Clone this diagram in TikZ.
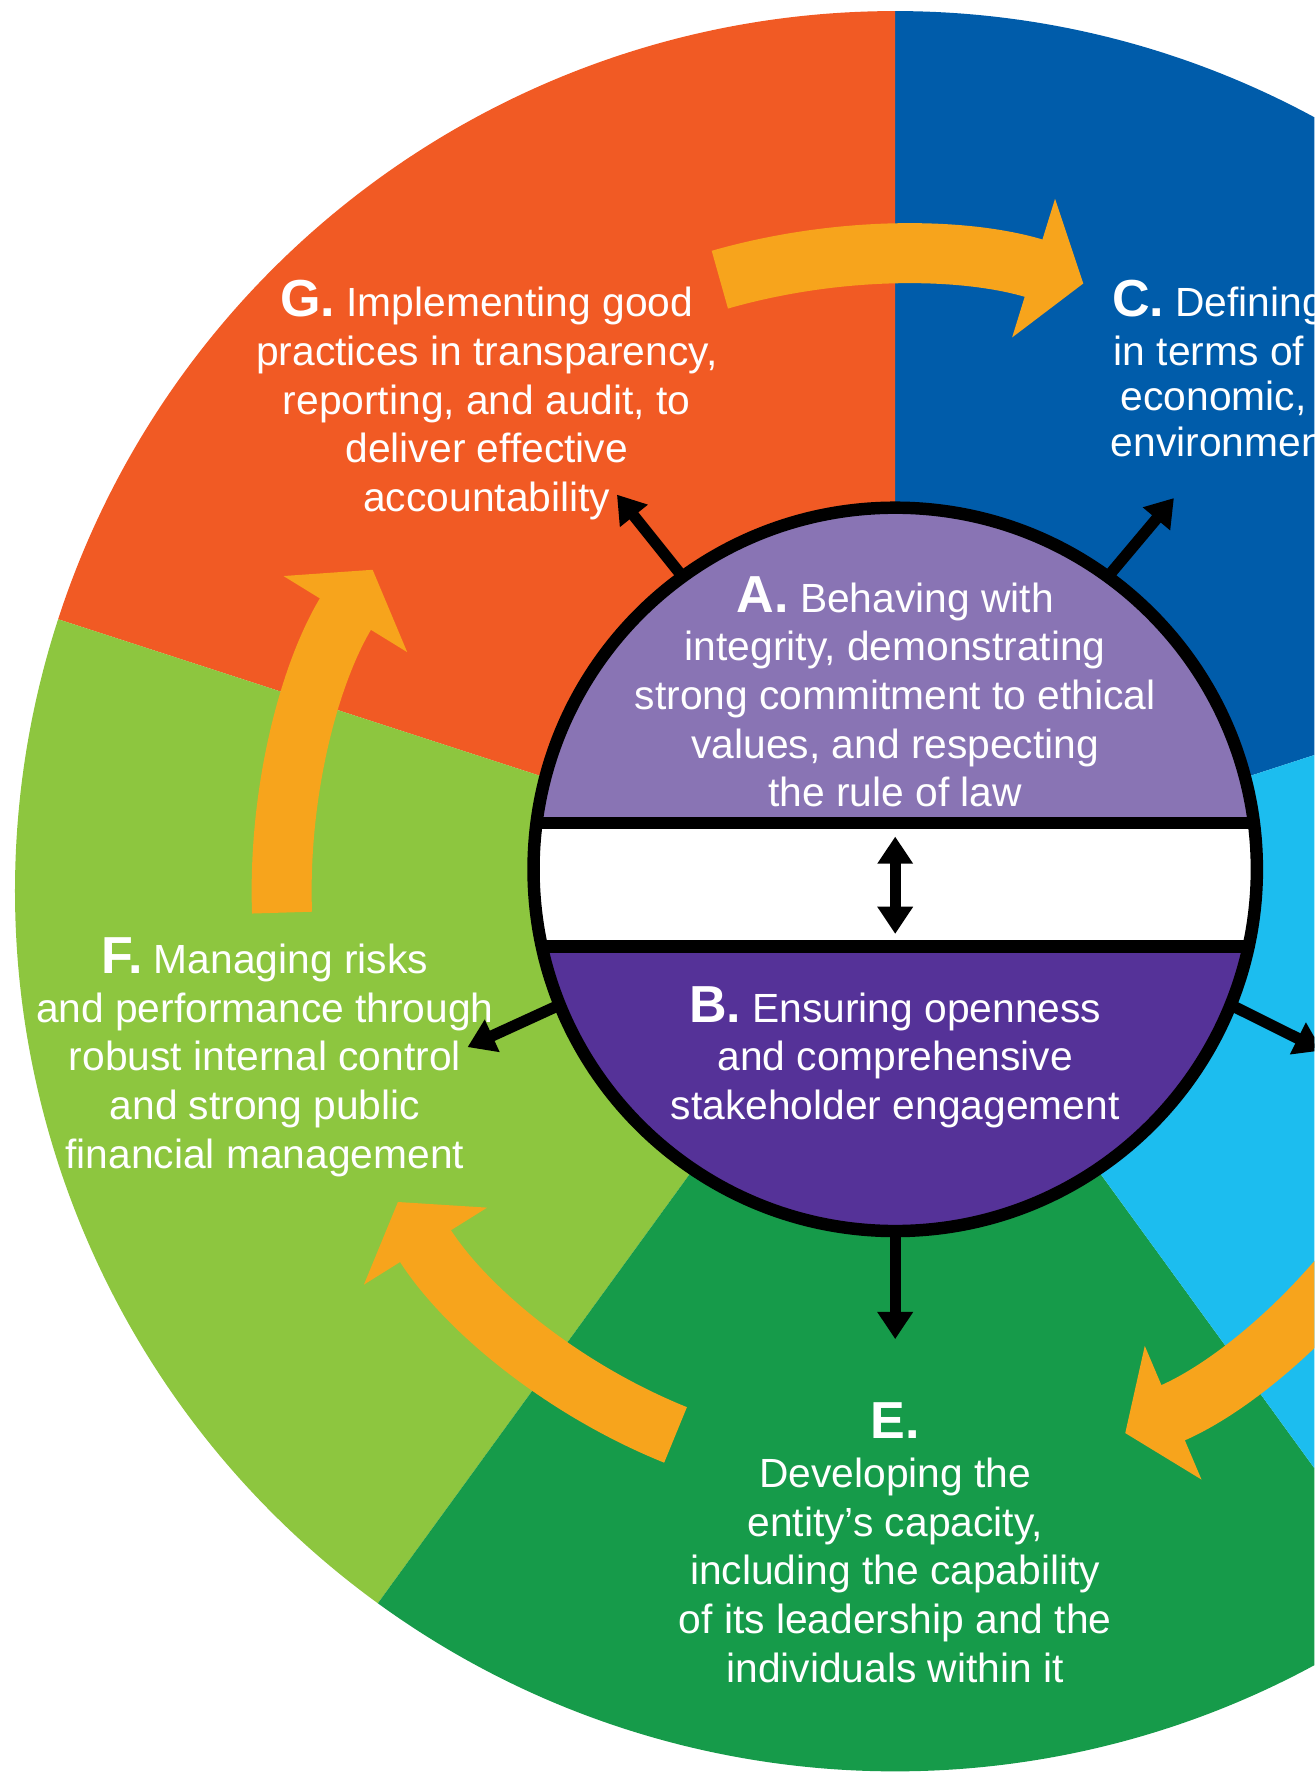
\documentclass[tikz,border=0pt]{standalone}
\usepackage{fontspec}
\setmainfont{Liberation Sans}
\usetikzlibrary{arrows.meta}
\definecolor{orangeG}{RGB}{241,90,36}
\definecolor{blueC}{RGB}{0,92,170}
\definecolor{blueD}{RGB}{28,189,239}
\definecolor{greenF}{RGB}{141,198,63}
\definecolor{greenE}{RGB}{22,155,74}
\definecolor{purA}{RGB}{137,116,180}
\definecolor{purB}{RGB}{85,50,152}
\definecolor{arrowOr}{RGB}{247,164,28}
\newcommand\bigletter[1]{{\fontsize{23}{21.5}\selectfont\bfseries #1}}
\begin{document}
\begin{tikzpicture}[x=0.5pt,y=0.5pt,
  body/.style={font=\fontsize{18}{21.5}\selectfont, text=white, align=center, inner sep=0pt},
  cline/.style={font=\fontsize{18}{21.5}\selectfont, text=white, inner sep=0pt, anchor=base west},
  blackarr/.style={line width=5pt, -{Triangle[length=12pt,width=15pt]}},
  dblarr/.style={line width=5pt, {Triangle[length=12pt,width=15pt]}-{Triangle[length=12pt,width=15pt]}},
  orangearr/.style={draw=arrowOr, line width=26.5pt, -{Triangle[length=23pt,width=63pt]}},
  outline/.style={line width=5.5pt}
]
\useasboundingbox (0,0) rectangle (1161,1568);
\clip (0,0) rectangle (1161,1568);
\coordinate (O) at (790.8,780.7);
% sectors
\fill[blueC] (O) -- ++(18:777.5) arc[start angle=18,end angle=90,radius=777.5] -- cycle;
\fill[orangeG] (O) -- ++(90:777.5) arc[start angle=90,end angle=162,radius=777.5] -- cycle;
\fill[greenF] (O) -- ++(162:777.5) arc[start angle=162,end angle=234,radius=777.5] -- cycle;
\fill[greenE] (O) -- ++(234:777.5) arc[start angle=234,end angle=306,radius=777.5] -- cycle;
\fill[blueD] (O) -- ++(306:777.5) arc[start angle=306,end angle=378,radius=777.5] -- cycle;
% orange cycle arrows
\coordinate (gcS) at ([shift={(106:562)}]O);
\coordinate (fgS) at ([shift={(182:542)}]O);
\coordinate (efS) at ([shift={(248:518)}]O);
\coordinate (deS) at ([shift={(327:520)}]O);
\draw[orangearr] (gcS) arc[start angle=106,end angle=72.8,radius=562];
\draw[orangearr] (fgS) arc[start angle=182,end angle=148.4,radius=542];
\draw[orangearr] (efS) arc[start angle=248,end angle=212,radius=518];
\draw[orangearr] (deS) arc[start angle=327,end angle=293,radius=520];
% inner circle
\node[circle, minimum size=319.5pt, inner sep=0pt, outer sep=0pt] (inner) at (790.8,800) {};
\begin{scope}
  \clip (inner.center) circle[radius=159.75pt];
  \fill[purA] (450,841) rectangle (1130,1130);
  \fill[white] (450,732) rectangle (1130,841);
  \fill[purB] (450,470) rectangle (1130,732);
  \draw[outline] (450,841) -- (1130,841) (450,732) -- (1130,732);
\end{scope}
\draw[outline] (inner.center) circle[radius=159.75pt];
% black arrows
\coordinate (tipG) at (545,1131);
\coordinate (tipC) at (1037,1128);
\coordinate (tipF) at (413,643);
\coordinate (tipD) at (1168,640);
\coordinate (tipE) at (790.8,385);
\coordinate (bandT) at (790.8,829);
\coordinate (bandB) at (790.8,743);
\draw[blackarr] (inner.126) -- (tipG);
\draw[blackarr] (inner.54) -- (tipC);
\draw[blackarr] (inner.202) -- (tipF);
\draw[blackarr] (inner.338) -- (tipD);
\draw[blackarr] (inner.270) -- (tipE);
\draw[dblarr] (bandB) -- (bandT);
% texts
\node[body] (A) at (790.8,957) {\bigletter{A.} Behaving with\\integrity, demonstrating\\strong commitment to ethical\\values, and respecting\\the rule of law};
\node[body] (B) at (790.8,634) {\bigletter{B.} Ensuring openness\\and comprehensive\\stakeholder engagement};
\node[body] (G) at (430,1214.5) {\bigletter{G.} Implementing good\\practices in transparency,\\reporting, and audit, to\\deliver effective\\accountability};
\node[body] (F) at (234,634) {\bigletter{F.} Managing risks\\and performance through\\robust internal control\\and strong public\\financial management};
\node[body] (E) at (790.8,205) {\bigletter{E.}\\Developing the\\entity’s capacity,\\including the capability\\of its leadership and the\\individuals within it};
\node[cline] (c1) at (982,1288) {\bigletter{C.} Defining};
\node[cline] (c2) at (983.5,1245.5) {in terms of};
\node[cline] (c3) at (989.6,1205) {economic,};
\node[cline] (c4) at (981,1164.5) {environment};
\end{tikzpicture}
\end{document}
